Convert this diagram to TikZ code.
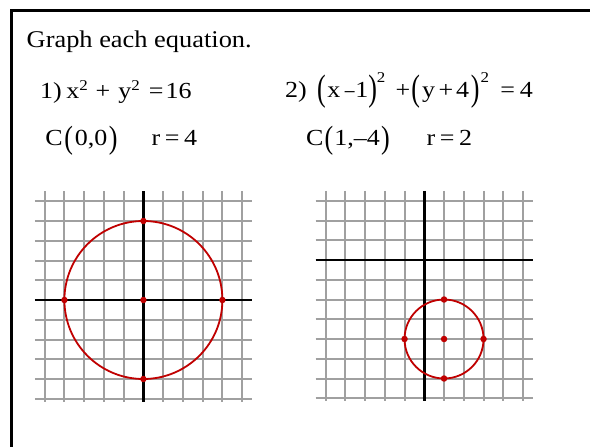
\documentclass[tikz,border=0pt]{standalone}
\usepackage{fontspec}
\setmainfont{Liberation Serif}
\usepackage{graphicx}
\newcommand{\supp}[2][8pt]{\raisebox{#1}{\fontsize{15}{15}\selectfont #2}}
\newcommand{\bigpa}[1]{\raisebox{-3.2pt}{\scalebox{1}[1.6]{#1}}}
\newcommand{\bigpb}[1]{\raisebox{-2.8pt}{\scalebox{1}[1.4]{#1}}}
\newcommand{\shortminus}{\scalebox{0.75}[1]{–}}
\newcommand{\wide}[1]{\scalebox{1.13}[1]{#1}}
\definecolor{gridgray}{RGB}{160,160,160}
\definecolor{curvered}{RGB}{192,0,0}
\tikzset{
  txt/.style={anchor=base west, inner sep=0pt, font=\fontsize{23}{23}\selectfont},
  gridline/.style={gridgray, line width=2pt},
  axisline/.style={black, line width=2.6pt},
  curve/.style={curvered, line width=1.8pt},
  dot/.style={circle, fill=curvered, inner sep=0pt, minimum size=6.5pt},
  frameline/.style={black, line width=3pt}
}
\begin{document}
\begin{tikzpicture}[x=1pt,y=-1pt]
\useasboundingbox (0,0) rectangle (590,447);
\fill[white] (0,0) rectangle (590,447);
\draw[frameline] (11.5,447) -- (11.5,10.3) -- (590,10.3);

\node[txt, font=\fontsize{24}{24}\selectfont] (title) at (26.5,47.5)
  {\scalebox{1.1}[1]{Graph each equation.}};
\node[txt] (eqa) at (40,98.3)
  {\wide{1)\hspace{4pt}x\supp{2}\hspace{7pt}+\hspace{7pt}y\supp{2}\hspace{8pt}=\hspace{2pt}16}};
\node[txt] (ca) at (45.2,145.5)
  {\wide{C\hspace{1.5pt}\bigpb{(}\hspace{1.5pt}0,0\hspace{1.5pt}\bigpb{)}}};
\node[txt] (ra) at (151.5,145.5)
  {\wide{r\hspace{4pt}=\hspace{4pt}4}};
\node[txt] (eqb) at (285,97.3)
  {\wide{2)\hspace{9pt}\bigpa{(}\hspace{1.6pt}x\hspace{4pt}\shortminus\hspace{0.5pt}1\bigpa{)}\supp[15pt]{2}\hspace{9pt}+\hspace{0.9pt}\bigpa{(}\hspace{2pt}y\hspace{3pt}+\hspace{2.5pt}4\hspace{1.5pt}\bigpa{)}\hspace{1pt}\supp[15pt]{2}\hspace{10pt}=\hspace{4.3pt}4}};
\node[txt] (cb) at (306,145.5)
  {\wide{C\hspace{1pt}\bigpb{(}\hspace{1pt}1,–4\hspace{1pt}\bigpb{)}}};
\node[txt] (rb) at (426.5,145.5)
  {\wide{r\hspace{4pt}=\hspace{4pt}2}};

% graph 1
\begin{scope}[shift={(143.4,300)}, x=19.75pt, y=19.75pt]
  \foreach \i in {-5,...,5} {
    \draw[gridline] (\i,5.5) -- (\i,-5.15);
    \draw[gridline] (-5.5,\i) -- (5.5,\i);
  }
  \draw[axisline] (-5.5,0) -- (5.5,0);
  \draw[axisline] (0,5.5) -- (0,-5.15);
  \draw[curve] (0,0) circle[radius=4];
  \node[dot] (c1) at (0,0) {};
  \node[dot] (t1) at (0,4) {};
  \node[dot] (b1) at (0,-4) {};
  \node[dot] (l1) at (-4,0) {};
  \node[dot] (r1) at (4,0) {};
\end{scope}

% graph 2
\begin{scope}[shift={(424.3,260)}, x=19.75pt, y=19.75pt]
  \foreach \i in {-5,...,5} {
    \draw[gridline] (\i,3.5) -- (\i,-7.15);
  }
  \foreach \j in {-7,...,3} {
    \draw[gridline] (-5.5,\j) -- (5.5,\j);
  }
  \draw[axisline] (-5.5,0) -- (5.5,0);
  \draw[axisline] (0,3.5) -- (0,-7.15);
  \draw[curve] (1,-4) circle[radius=2];
  \node[dot] (c2) at (1,-4) {};
  \node[dot] (t2) at (1,-2) {};
  \node[dot] (b2) at (1,-6) {};
  \node[dot] (l2) at (-1,-4) {};
  \node[dot] (r2) at (3,-4) {};
\end{scope}
\end{tikzpicture}
\end{document}
